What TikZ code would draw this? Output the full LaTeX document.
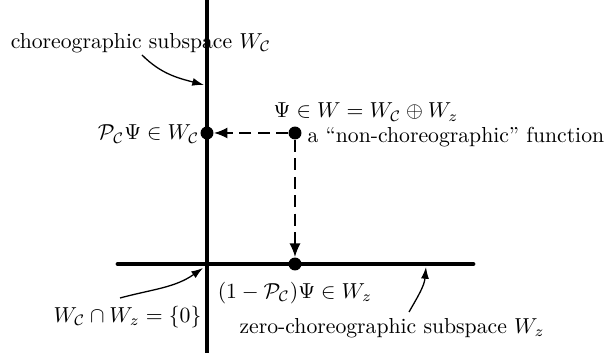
\documentclass[tikz,border=0pt]{standalone}
\usepackage{amsmath}
\usepackage{amssymb}
\usepackage{tikz}
\usetikzlibrary{positioning,arrows.meta,calc}

\begin{document}
\begin{tikzpicture}[
  x=0.0162cm, y=-0.0162cm,
  axis/.style={line width=2.2pt, line cap=round},
  proj/.style={-{Latex[length=2.2mm,width=1.8mm]}, line width=0.9pt, dash pattern=on 5.5pt off 3pt},
  dot/.style={circle, fill, inner sep=0pt, minimum size=2.1mm},
  lbl/.style={-{Latex[length=1.9mm,width=1.3mm]}, semithick},
  txt/.style={inner sep=1pt}
]
\useasboundingbox (0,0) rectangle (609,355);

% axes
\coordinate (top) at (207,0);
\coordinate (bot) at (207,353);
\coordinate (left) at (118,264);
\coordinate (right) at (473,264);
\draw[line width=2pt] (top) -- (bot);
\draw[axis] (left) -- (right);

% points
\node[dot] (psi) at (295,133) {};
\node[dot] (pc) at (207,133) {};
\node[dot] (pz) at (295,264) {};

\draw[proj] (psi) -- (pc);
\draw[proj] (psi) -- (pz);

% labels
\node[txt] (chor) at (141,43) {choreographic subspace $W_{\mathcal{C}}$};
\node[txt] (spc) at (366,112) {$\Psi \in W = W_{\mathcal{C}} \oplus W_z$};
\node[txt, anchor=west] (nonc) at (305,137) {a ``non-choreographic'' function};
\node[txt, anchor=east] (pcl) at (202,134) {$\mathcal{P}_{\mathcal{C}}\Psi \in W_{\mathcal{C}}$};
\node[txt] (pzl) at (295,293) {$(1-\mathcal{P}_{\mathcal{C}})\Psi \in W_z$};
\node[txt, anchor=east] (cap) at (204,317) {$W_{\mathcal{C}} \cap W_z = \{0\}$};
\node[txt, anchor=west] (zero) at (237,328) {zero-choreographic subspace $W_z$};

% label arrows
\coordinate (chortip) at (204,85);
\coordinate (captip) at (203,268);
\coordinate (zerotip) at (426,267);
\draw[lbl] (142,55) to[out=-45,in=165] (chortip);
\draw[lbl] (120,298) to[out=15,in=-145] (captip);
\draw[lbl] (409,312) to[out=60,in=-95] (zerotip);
\end{tikzpicture}
\end{document}
